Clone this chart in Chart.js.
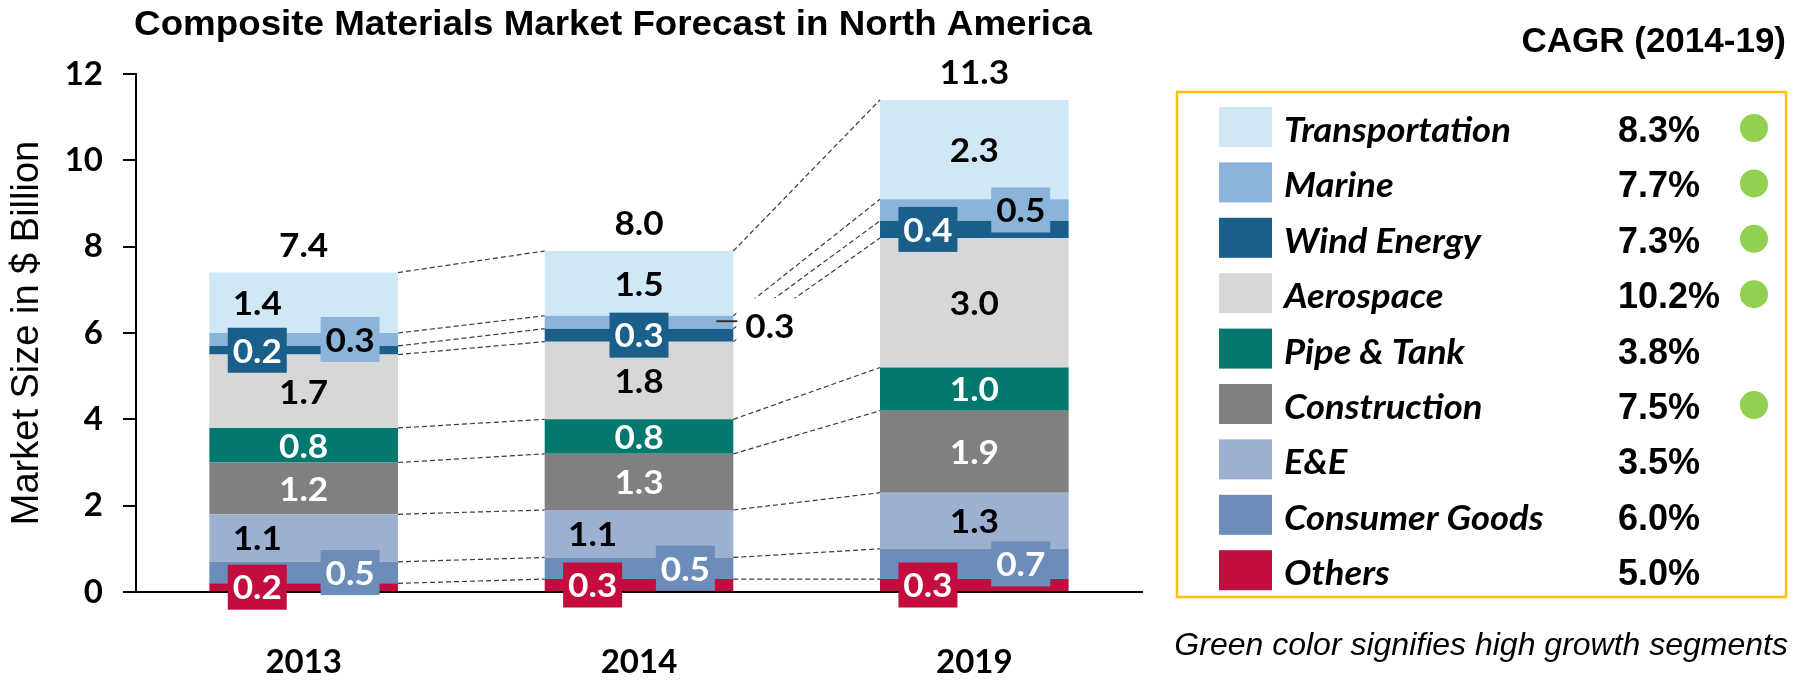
<!DOCTYPE html>
<html>
<head>
<meta charset="utf-8">
<script src="https://cdn.jsdelivr.net/npm/chart.js@4.4.1/dist/chart.umd.min.js"></script>
<style>
  html, body { margin: 0; padding: 0; background: #fff; }
  #wrap { width: 1802px; height: 680px; }
</style>
</head>
<body>
<div id="wrap"><canvas id="chart" width="1802" height="680"></canvas></div>
<script>
// Données ($ milliards)
const years = ['2013', '2014', '2019'];
const others        = [0.2, 0.3, 0.3];
const consumerGoods = [0.5, 0.5, 0.7];
const ee            = [1.1, 1.1, 1.3];
const construction  = [1.2, 1.3, 1.9];
const pipeTank      = [0.8, 0.8, 1.0];
const aerospace     = [1.7, 1.8, 3.0];
const windEnergy    = [0.2, 0.3, 0.4];
const marine        = [0.3, 0.3, 0.5];
const transportation = [1.4, 1.5, 2.3];
const totals = [7.4, 8.0, 11.3];
const yTicks = [0, 2, 4, 6, 8, 10, 12];

// CAGR (2014-19), dans l'ordre de la légende (haut -> bas)
const legendNames = ['Transportation', 'Marine', 'Wind Energy', 'Aerospace', 'Pipe & Tank',
                     'Construction', 'E&E', 'Consumer Goods', 'Others'];
const cagr = ['8.3%', '7.7%', '7.3%', '10.2%', '3.8%', '7.5%', '3.5%', '6.0%', '5.0%'];
const highGrowth = [true, true, true, true, false, true, false, false, false];

// Couleurs et placement des étiquettes (C centre, L gauche, R droite, box = encadré)
const colors = {
  'Others': '#C30D3F', 'Consumer Goods': '#6C8CBA', 'E&E': '#9DB0CF',
  'Construction': '#808080', 'Pipe & Tank': '#03786F', 'Aerospace': '#D6D7D9',
  'Wind Energy': '#1A5F8A', 'Marine': '#8BB4DB', 'Transportation': '#D0E7F6'
};
const labelColor = {
  'Others': '#fff', 'Consumer Goods': '#fff', 'E&E': '#000', 'Construction': '#fff',
  'Pipe & Tank': '#fff', 'Aerospace': '#000', 'Wind Energy': '#fff', 'Marine': '#000',
  'Transportation': '#000'
};
const placement = {
  'Others': ['Lbox', 'Lbox', 'Lbox'],
  'Consumer Goods': ['Rbox', 'Rbox', 'Rbox'],
  'E&E': ['L', 'L', 'C'],
  'Construction': ['C', 'C', 'C'],
  'Pipe & Tank': ['C', 'C', 'C'],
  'Aerospace': ['C', 'C', 'C'],
  'Wind Energy': ['Lbox', 'Cbox', 'Lbox'],
  'Marine': ['Rbox', 'out', 'Rbox'],
  'Transportation': ['L', 'C', 'C']
};

const series = [
  ['Others', others], ['Consumer Goods', consumerGoods], ['E&E', ee],
  ['Construction', construction], ['Pipe & Tank', pipeTank], ['Aerospace', aerospace],
  ['Wind Energy', windEnergy], ['Marine', marine], ['Transportation', transportation]
];

const NUM_FONT = 'bold 32px Lato';
const NUM_SX = 1.1;

// texte étiré horizontalement (la source est un peu écrasée en hauteur)
function stretchText(ctx, t, x, y, sx) {
  ctx.save();
  ctx.translate(x, y);
  ctx.scale(sx, 1);
  ctx.fillText(t, 0, 0);
  ctx.restore();
}

const decorations = {
  id: 'decorations',
  afterDatasetsDraw(chart) {
    const ctx = chart.ctx;
    const metas = chart.data.datasets.map((d, i) => chart.getDatasetMeta(i));

    // lignes pointillées entre les barres
    ctx.save();
    ctx.setLineDash([5, 3]);
    ctx.strokeStyle = '#3a3a3a';
    ctx.lineWidth = 1.2;
    for (let j = 0; j < years.length - 1; j++) {
      metas.forEach(m => {
        const a = m.data[j], b = m.data[j + 1];
        ctx.beginPath();
        ctx.moveTo(a.x + a.width / 2, a.y);
        ctx.lineTo(b.x - b.width / 2, b.y);
        ctx.stroke();
      });
    }
    ctx.restore();

    // étiquettes des segments
    ctx.save();
    ctx.font = NUM_FONT;
    ctx.textAlign = 'center';
    ctx.textBaseline = 'middle';
    metas.forEach((m, di) => {
      const name = chart.data.datasets[di].label;
      const vals = chart.data.datasets[di].data;
      m.data.forEach((el, j) => {
        const mode = placement[name][j];
        const off = el.width * 0.246;
        const cy = (el.y + el.base) / 2;
        const txt = vals[j].toFixed(1);
        if (mode === 'out') {
          const bx = el.x + el.width / 2 + 3;
          ctx.fillStyle = '#fff';
          ctx.fillRect(bx, cy - 24, 80, 58);
          ctx.strokeStyle = '#333';
          ctx.lineWidth = 2;
          ctx.beginPath();
          ctx.moveTo(el.x + el.width / 2 - 17, cy - 1);
          ctx.lineTo(bx + 1, cy - 1);
          ctx.stroke();
          ctx.fillStyle = '#000';
          ctx.textAlign = 'left';
          stretchText(ctx, txt, bx + 9, cy + 5, NUM_SX);
          ctx.textAlign = 'center';
          return;
        }
        const cx = el.x + (mode[0] === 'L' ? -off : mode[0] === 'R' ? off : 0);
        if (mode.endsWith('box')) {
          ctx.fillStyle = colors[name];
          ctx.fillRect(cx - 29.5, cy - 22.5, 59, 45);
        }
        ctx.fillStyle = labelColor[name];
        stretchText(ctx, txt, cx, cy + 2, NUM_SX);
      });
    });

    // totaux au-dessus des barres
    const top = metas[metas.length - 1];
    ctx.fillStyle = '#000';
    top.data.forEach((el, j) => {
      stretchText(ctx, totals[j].toFixed(1), el.x, el.y - 26, NUM_SX);
    });
    ctx.restore();
  },
  afterDraw(chart) {
    const ctx = chart.ctx;
    ctx.save();
    ctx.fillStyle = '#000';
    ctx.textBaseline = 'middle';

    // titre
    ctx.font = 'bold 35px "Liberation Sans", Arial';
    ctx.textAlign = 'center';
    stretchText(ctx, 'Composite Materials Market Forecast in North America', 613, 25, 1.05);

    // en-tête CAGR
    ctx.textAlign = 'right';
    ctx.font = 'bold 35px "Liberation Sans", Arial';
    ctx.fillText('CAGR (2014-19)', 1786, 42);

    // cadre de la légende
    ctx.strokeStyle = '#FFC000';
    ctx.lineWidth = 2.5;
    ctx.strokeRect(1177, 92, 609, 505);

    ctx.textBaseline = 'alphabetic';
    legendNames.forEach((name, i) => {
      const top = 107 + i * 55.4;
      const mid = top + 20;
      ctx.fillStyle = colors[name];
      ctx.fillRect(1219, top, 53, 40);
      ctx.fillStyle = '#000';
      ctx.textAlign = 'left';
      ctx.font = 'italic bold 35px Lato';
      stretchText(ctx, name, 1284, mid + 15, 1.04);
      ctx.font = 'bold 36px "Liberation Sans", Arial';
      ctx.fillText(cagr[i], 1618, mid + 15);
      if (highGrowth[i]) {
        ctx.fillStyle = '#92D050';
        ctx.beginPath();
        ctx.arc(1754, mid + 1, 14, 0, Math.PI * 2);
        ctx.fill();
      }
    });

    // note
    ctx.fillStyle = '#000';
    ctx.textAlign = 'right';
    ctx.font = 'italic 32px "Liberation Sans", Arial';
    ctx.fillText('Green color signifies high growth segments', 1788, 655);
    ctx.restore();
  }
};

const tickFont = { family: 'Lato', weight: 'bold', size: 33 };

new Chart(document.getElementById('chart'), {
  type: 'bar',
  data: {
    labels: years,
    datasets: series.map(([name, vals]) => ({
      label: name,
      data: vals,
      backgroundColor: colors[name],
      borderWidth: 0,
      barPercentage: 0.5625,
      categoryPercentage: 1
    }))
  },
  options: {
    responsive: false,
    animation: false,
    devicePixelRatio: 1,
    layout: { padding: { top: 74, right: 660, bottom: 0, left: 0 } },
    plugins: {
      legend: { display: false },
      title: { display: false },
      tooltip: { enabled: false }
    },
    scales: {
      x: {
        stacked: true,
        grid: { display: false, drawTicks: false },
        border: { display: true, color: '#000', width: 2 },
        ticks: { color: '#000', font: tickFont, padding: 51 },
        afterFit: s => { s.height = 88; }
      },
      y: {
        stacked: true,
        min: 0,
        max: 12,
        afterBuildTicks: s => { s.ticks = yTicks.map(v => ({ value: v })); },
        grid: { drawOnChartArea: false, drawTicks: true, tickLength: 13, color: '#000', lineWidth: 2 },
        border: { display: true, color: '#000', width: 2 },
        ticks: { color: '#000', font: tickFont, padding: 20 },
        title: {
          display: true,
          text: 'Market Size in $ Billion',
          color: '#000',
          font: { family: '"Liberation Sans", Arial', size: 38 },
          padding: { top: 5, bottom: 0 }
        },
        afterFit: s => { s.width = 136; }
      }
    }
  },
  plugins: [decorations]
});
</script>
</body>
</html>
